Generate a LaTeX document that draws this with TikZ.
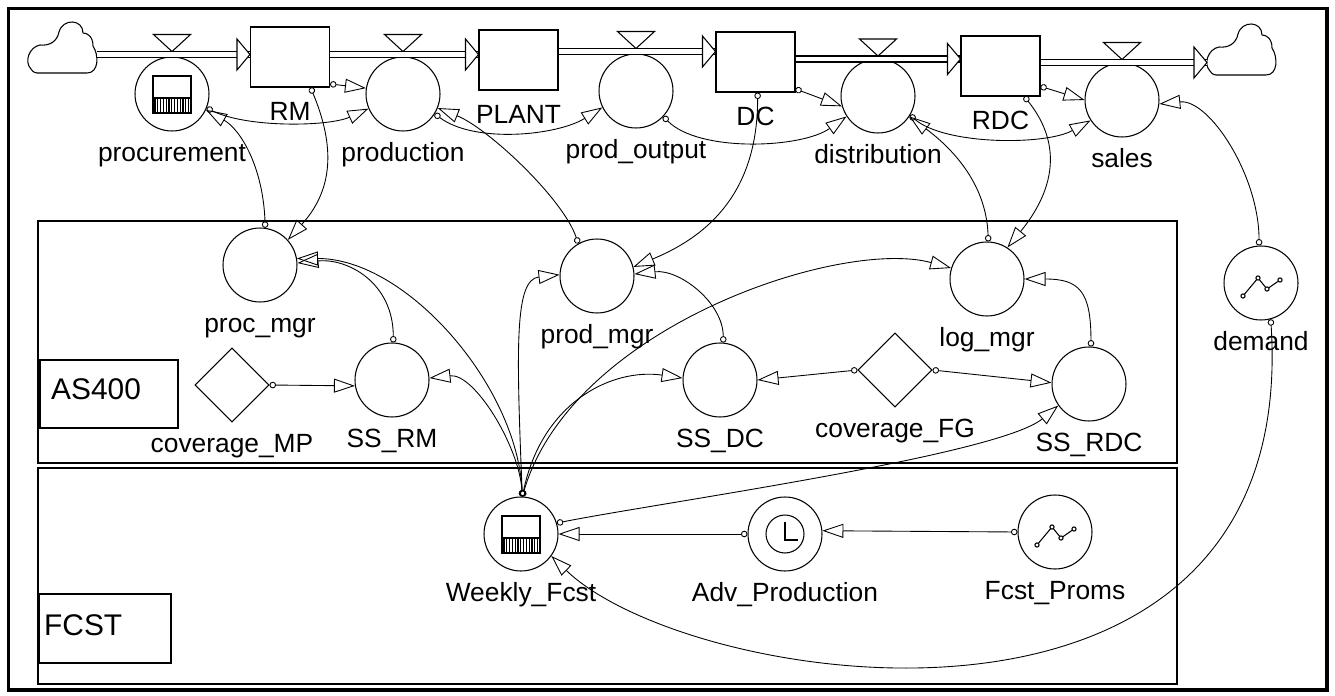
\documentclass[tikz,border=0pt]{standalone}
\usepackage{fontspec}
\setmainfont{Liberation Sans}
\usetikzlibrary{arrows.meta,positioning,shapes.geometric}

\begin{document}
\begin{tikzpicture}[x=0.02cm, y=-0.02cm, line width=0.6pt,
  stock/.style={draw, rectangle, minimum width=1.58cm, minimum height=1.2cm, inner sep=0pt},
  flow/.style={draw, circle, minimum size=1.48cm, inner sep=0pt},
  conv/.style={draw, circle, minimum size=1.48cm, inner sep=0pt},
  const/.style={draw, diamond, aspect=1, minimum width=1.48cm, minimum height=1.48cm, inner sep=0pt},
  lab/.style={font=\fontsize{15}{18}\selectfont, inner sep=0pt, text height=11pt, text depth=3pt},
  seclab/.style={draw, line width=1.4pt, font=\fontsize{17}{20}\selectfont, align=left, inner ysep=0pt, anchor=north west},
  pipe/.style={double, double distance=0.09cm, line width=0.75pt},
  pipehead/.style={fill=white},
  valve/.style={fill=white},
  conn/.style={arrows={Circle[open,length=0.13cm]-Triangle[open,length=0.42cm,width=0.28cm]}, line width=0.5pt}
]
\useasboundingbox (0,0) rectangle (1335,696);
\draw[line width=0.07cm] (8.5,8.5) rectangle (1327,690);
\draw[line width=1.4pt] (38,221) rectangle (1177,463);
\draw[line width=1.4pt] (38,468) rectangle (1177,684);
\node[seclab, text width=2.32cm, inner xsep=0.22cm, minimum height=1.36cm, text height=0.43cm, text depth=0.22cm] (as4) at (39,359) {AS400};
\node[seclab, text width=2.44cm, inner xsep=0.1cm, minimum height=1.38cm, text height=0.43cm, text depth=0.14cm] (fcst) at (38,593) {FCST};

\node[stock] (rm) at (290,57) {};
\node[stock] (plant) at (518.5,60) {};
\node[stock] (dc) at (755.5,62) {};
\node[stock] (rdc) at (1000.5,66) {};

\node[flow] (proc) at (172,94) {};
\node[flow] (prod) at (403,94) {};
\node[flow] (pout) at (636,91) {};
\node[flow] (dist) at (878,96) {};
\node[flow] (sales) at (1122,100) {};

\node[conv] (pmgr) at (260,265) {};
\node[conv] (prodmgr) at (597,276) {};
\node[conv] (logmgr) at (987,279) {};
\node[conv] (ssrm) at (392,380) {};
\node[conv] (ssdc) at (720,380) {};
\node[conv] (ssrdc) at (1089,384) {};
\node[conv] (demand) at (1261,283) {};
\node[conv] (wfc) at (521,534) {};
\node[conv] (adv) at (785,534) {};
\node[conv] (fprom) at (1055,532) {};
\node[const] (covmp) at (232,385) {};
\node[const] (covfg) at (895,370) {};

\foreach \n/\t in {rm/RM, plant/PLANT, dc/DC, rdc/RDC}
  \node[lab, below=7.5pt of \n] (\n-t) {\t};
\foreach \n/\t in {proc/procurement, prod/production, pout/prod\_output, dist/distribution, sales/sales,
    pmgr/proc\_mgr, prodmgr/prod\_mgr, logmgr/log\_mgr, ssrm/SS\_RM, ssdc/SS\_DC, ssrdc/SS\_RDC,
    demand/demand, wfc/Weekly\_Fcst, adv/Adv\_Production, fprom/Fcst\_Proms,
    covmp/coverage\_MP, covfg/coverage\_FG}
  \node[lab, below=6pt of \n] (\n-t) {\t};

\foreach \n in {proc,wfc} {
  \draw ([shift={(-19,-18)}]\n.center) rectangle ([shift={(19,19)}]\n.center);
  \draw ([shift={(-19,4)}]\n.center) -- ([shift={(19,4)}]\n.center);
  \foreach \i in {0,...,12}
    \draw ([shift={(-17+2.8*\i,4)}]\n.center) -- ++(0,15);
}
\foreach \n in {demand,fprom} {
  \draw ([shift={(-18,13)}]\n.center) -- ([shift={(-3,-5)}]\n.center) -- ([shift={(6,6)}]\n.center) -- ([shift={(19,-3)}]\n.center);
  \foreach \a/\b in {-18/13, -3/-5, 6/6, 19/-3}
    \draw[fill=white] ([shift={(\a,\b)}]\n.center) circle (1.2pt);
}
\draw (adv.center) circle (0.38cm);
\draw ([shift={(0,-12)}]adv.center) -- ([shift={(0,6)}]adv.center) -- ([shift={(13,6)}]adv.center);

\foreach \cx/\cy in {27/22, 1206/24}
  \draw[shift={(\cx,\cy)}] (10,51) -- (60,51) .. controls (72,51) and (72,33) .. (66,24)
    .. controls (66,14) and (60,11) .. (56,11) .. controls (56,-3) and (36,-4) .. (32,10)
    .. controls (30,20) and (22,24) .. (13,23) .. controls (2,25) and (-3,40) .. (4,47)
    .. controls (6,50) and (8,51) .. (10,51) -- cycle;
\coordinate (src) at (97,0);
\coordinate (sink) at (1207,0);

\coordinate (v1) at (172,54.5);
\coordinate (v2) at (403,54.5);
\coordinate (v3) at (636,51.5);
\coordinate (v4) at (878,59);
\coordinate (v5) at (1122,62.5);

\draw[pipe] (src |- v1) -- (v1 -| rm.west);
\draw[pipe] (rm.east |- v2) -- (v2 -| plant.west);
\draw[pipe] (plant.east |- v3) -- (v3 -| dc.west);
\draw[pipe] (dc.east |- v4) -- (v4 -| rdc.west);
\draw[pipe] (rdc.east |- v5) -- (v5 -| sink);
\foreach \v/\s in {v1/rm.west, v2/plant.west, v3/dc.west, v4/rdc.west, v5/sink}
  \draw[pipehead] (\v -| \s) -- ++(-13,-15.5) -- ++(0,31) -- cycle;
\foreach \v in {v1,v2,v3,v4,v5}
  \draw[valve] (\v) ++(0,-3) -- ++(-18.5,-17) -- ++(37,0) -- cycle;

\draw[conn] (rm.-34) -- (prod.171);
\draw[conn] (rm.-56) .. controls +(25,60) and +(45,-50) .. (pmgr.42);
\draw[conn] (pmgr.82) .. controls +(-2,-60) and +(35,20) .. (proc.-25);
\draw[conn] (proc.-22) .. controls +(40,20) and +(-40,18) .. (prod.-157);
\draw[conn] (prodmgr.120) .. controls +(-15,-45) and +(50,20) .. (prod.-22);
\draw[conn] (prod.-32) .. controls +(40,30) and +(-45,28) .. (pout.-154);
\draw[conn] (pout.-43) .. controls +(35,36) and +(-45,32) .. (dist.-147);
\draw[conn] (dc.-34) -- (dist.-164);
\draw[conn] (dc.-86) .. controls +(0,90) and +(85,-35) .. (prodmgr.14);
\draw[conn] (dist.-31) .. controls +(35,30) and +(-45,25) .. (sales.-147);
\draw[conn] (logmgr.88) .. controls +(-2,-60) and +(40,30) .. (dist.-33);
\draw[conn] (rdc.-27) -- (sales.180);
\draw[conn] (rdc.-52) .. controls +(40,50) and +(45,-55) .. (logmgr.57);
\draw[conn] (demand.93) .. controls +(0,-70) and +(50,-5) .. (sales.-6);
\draw[conn] (wfc.88) .. controls +(-5,-110) and +(110,0) .. (pmgr.10);
\draw[conn] (ssrm.88) .. controls +(0,-60) and +(50,-5) .. (pmgr.3);
\draw[conn] (wfc.88) .. controls +(-3,-50) and +(45,-5) .. (ssrm.3);
\draw[conn] (wfc.88) .. controls +(-6,-150) and +(-45,5) .. (prodmgr.178);
\draw[conn] (wfc.88) .. controls +(20,-95) and +(-70,-10) .. (ssdc.177);
\draw[conn] (wfc.88) .. controls +(50,-170) and +(-110,-30) .. (logmgr.163);
\draw[conn] (covmp.east) -- (ssrm.-171);
\draw[conn] (ssdc.85) .. controls +(0,-40) and +(45,-5) .. (prodmgr.3);
\draw[conn] (covfg.west) -- (ssdc.0);
\draw[conn] (covfg.east) -- (ssrdc.178);
\draw[conn] (ssrdc.87) .. controls +(0,-55) and +(55,0) .. (logmgr.0);
\draw[conn] (wfc.17) .. controls +(100,-20) and +(-60,50) .. (ssrdc.215);
\draw[conn] (adv.180) -- (wfc.0);
\draw[conn] (fprom.180) -- (adv.5);
\draw[conn] (demand.-75) .. controls +(30,463) and +(139,134) .. (wfc.-36);
\end{tikzpicture}
\end{document}
